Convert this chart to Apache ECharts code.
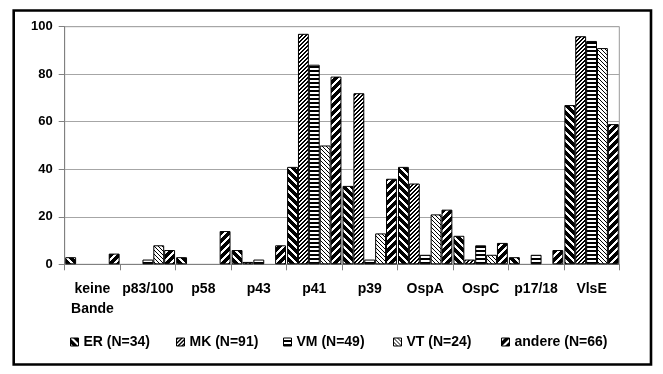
<!DOCTYPE html>
<html>
<head>
<meta charset="utf-8">
<script src="https://cdn.jsdelivr.net/npm/echarts@6/dist/echarts.min.js"></script>
<style>
html,body{margin:0;padding:0;background:#fff;}
#c{width:663px;height:374px;}
</style>
</head>
<body>
<div id="c"></div>
<script>
var categories = ['keine\nBande', 'p83/100', 'p58', 'p43', 'p41', 'p39', 'OspA', 'OspC', 'p17/18', 'VlsE'];
var seriesNames = ['ER (N=34)', 'MK (N=91)', 'VM (N=49)', 'VT (N=24)', 'andere (N=66)'];
var ER     = [3, 0, 3, 6, 41, 33, 41, 12, 3, 67];
var MK     = [0, 0, 0, 1, 97, 72, 34, 2, 0, 96];
var VM     = [0, 2, 0, 2, 84, 2, 4, 8, 4, 94];
var VT     = [0, 8, 0, 0, 50, 13, 21, 4, 0, 91];
var andere = [4.5, 6, 14, 8, 79, 36, 23, 9, 6, 59];
var yTicks = [0, 20, 40, 60, 80, 100];

function makePattern(size, bg, fg, test) {
  var cv = document.createElement('canvas');
  cv.width = size; cv.height = size;
  var ctx = cv.getContext('2d');
  ctx.fillStyle = bg; ctx.fillRect(0, 0, size, size);
  ctx.fillStyle = fg;
  for (var y = 0; y < size; y++) {
    for (var x = 0; x < size; x++) {
      if (test(x, y)) ctx.fillRect(x, y, 1, 1);
    }
  }
  return { image: cv, repeat: 'repeat' };
}
function mod(a, n) { return ((a % n) + n) % n; }

var patterns = [
  makePattern(8, '#000', '#fff', function (x, y) { return mod(x - y, 8) < 3; }),   // ER
  makePattern(4, '#fff', '#000', function (x, y) { return mod(x + y, 4) < 2; }),   // MK
  makePattern(4, '#000', '#fff', function (x, y) { return mod(y, 4) < 2; }),       // VM
  makePattern(4, '#fff', '#000', function (x, y) { return mod(x - y, 4) < 1; }),   // VT
  makePattern(8, '#000', '#fff', function (x, y) { return mod(x + y, 8) < 3; })    // andere
];
var values = [ER, MK, VM, VT, andere];

var font = '"Liberation Sans", Arial, sans-serif';
var series = seriesNames.map(function (name, i) {
  return {
    name: name,
    type: 'bar',
    barGap: '0%',
    barCategoryGap: '2%',
    data: values[i].map(function (v) { return v === 0 ? null : v; }),
    itemStyle: { color: patterns[i], borderColor: '#000', borderWidth: 1 },
    emphasis: { disabled: true },
    animation: false
  };
});

var legendLefts = [70, 176, 283, 393, 501];
var legends = seriesNames.map(function (name, i) {
  return {
    data: [name],
    left: legendLefts[i],
    top: 335,
    itemWidth: 8,
    itemHeight: 8,
    itemGap: 5,
    padding: 0,
    icon: 'rect',
    itemStyle: { borderColor: '#000', borderWidth: 1 },
    textStyle: { fontFamily: font, fontWeight: 'bold', fontSize: 14, color: '#000', padding: [0, 0, 0, 0] },
    selectedMode: false
  };
});

var chart = echarts.init(document.getElementById('c'), null, { renderer: 'canvas' });
chart.setOption({
  backgroundColor: '#fff',
  animation: false,
  grid: { left: 64.7, right: 43.7, top: 26.7, bottom: 109.7, show: true, borderColor: '#999', borderWidth: 1, backgroundColor: '#fff' },
  legend: legends,
  xAxis: {
    type: 'category',
    data: categories,
    axisLine: { lineStyle: { color: '#808080', width: 1 } },
    axisTick: { show: true, alignWithLabel: false, length: 6, lineStyle: { color: '#808080' } },
    axisLabel: { fontFamily: font, fontWeight: 'bold', fontSize: 14, color: '#000', margin: 15, lineHeight: 20, interval: 0 }
  },
  yAxis: {
    type: 'value',
    min: yTicks[0],
    max: yTicks[yTicks.length - 1],
    interval: 20,
    axisLine: { show: true, lineStyle: { color: '#808080', width: 1 } },
    axisTick: { show: true, length: 6, lineStyle: { color: '#808080' } },
    axisLabel: { fontFamily: font, fontWeight: 'bold', fontSize: 13, color: '#000', margin: 12 },
    splitLine: { show: true, lineStyle: { color: '#a6a6a6', width: 1 } }
  },
  graphic: [{
    type: 'rect',
    shape: { x: 13.7, y: 10.5, width: 637.3, height: 354 },
    style: { fill: null, stroke: '#000', lineWidth: 2.6 },
    silent: true,
    z: 100
  }],
  series: series
});
</script>
</body>
</html>
